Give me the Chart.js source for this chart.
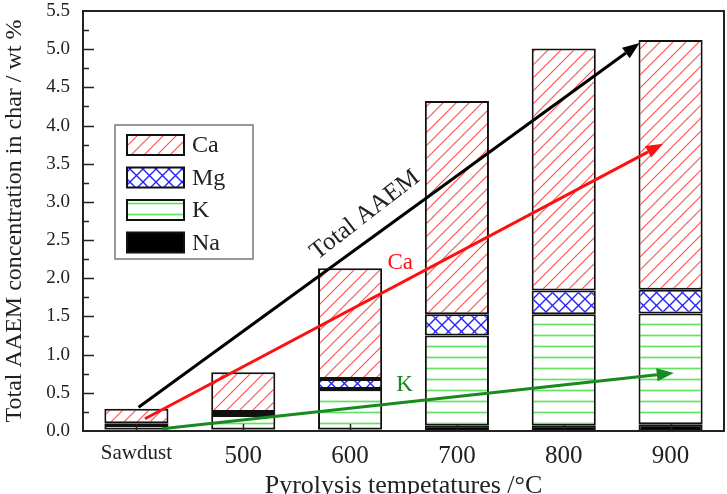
<!DOCTYPE html>
<html lang="en">
<head>
<meta charset="UTF-8">
<title>AAEM in char</title>
<script src="https://cdn.jsdelivr.net/npm/chart.js"></script>
<style>
  body { margin: 0; background: #fff; }
  #wrap { width: 727px; height: 494px; }
</style>
</head>
<body>
<div id="wrap"><canvas id="chart"></canvas></div>
<script>
// values (wt %)
const categories = ['Sawdust', '500', '600', '700', '800', '900'];
const na = [0.02, 0.02, 0.02, 0.07, 0.07, 0.09];
const k  = [0.06, 0.19, 0.53, 1.18, 1.46, 1.45];
const mg = [0.02, 0.04, 0.13, 0.28, 0.31, 0.31];
const ca = [0.19, 0.52, 1.45, 2.79, 3.17, 3.27];
const yTicks = [0, 0.5, 1, 1.5, 2, 2.5, 3, 3.5, 4, 4.5, 5, 5.5];

// trend arrows, in data units (category index, wt %)
const arrowNames = ['Total AAEM', 'Ca', 'K'];
const arrowStart = [[0.02, 0.31], [0.08, 0.16], [0.24, 0.03]];
const arrowEnd   = [[4.71, 5.08], [4.93, 3.76], [5.03, 0.76]];
const arrowText  = [[2.14, 2.83], [2.47, 2.20], [2.51, 0.60]];
const arrowColors = ['#000000', '#ff1010', '#188a1e'];

const SERIF = '"Liberation Serif", "Times New Roman", serif';

function makePattern(kind) {
  const c = document.createElement('canvas');
  const g = c.getContext('2d');
  if (kind === 'diag') {
    c.width = c.height = 13;
    g.fillStyle = '#fff'; g.fillRect(0, 0, 13, 13);
    g.strokeStyle = '#ff5454'; g.lineWidth = 1.2;
    g.beginPath();
    g.moveTo(-1, 14); g.lineTo(14, -1);
    g.moveTo(-1, 1); g.lineTo(1, -1);
    g.moveTo(12, 14); g.lineTo(14, 12);
    g.stroke();
  } else if (kind === 'cross') {
    c.width = c.height = 13;
    g.fillStyle = '#fff'; g.fillRect(0, 0, 13, 13);
    g.strokeStyle = '#2424ff'; g.lineWidth = 1.4;
    g.beginPath();
    g.moveTo(0, 0); g.lineTo(13, 13);
    g.moveTo(0, 13); g.lineTo(13, 0);
    g.stroke();
  } else {
    c.width = c.height = 11;
    g.fillStyle = '#fff'; g.fillRect(0, 0, 11, 11);
    g.strokeStyle = '#62e262'; g.lineWidth = 1.7;
    g.beginPath(); g.moveTo(0, 5.5); g.lineTo(11, 5.5); g.stroke();
  }
  return g.createPattern(c, 'repeat');
}

const extras = {
  id: 'extras',
  afterDatasetsDraw(chart) {
    const ctx = chart.ctx;
    const a = chart.chartArea;
    const xs = chart.scales.x, ys = chart.scales.y;
    ctx.save();

    // frame
    ctx.strokeStyle = '#222'; ctx.lineWidth = 2;
    ctx.strokeRect(a.left, a.top, a.right - a.left, a.bottom - a.top);

    // inward ticks on y
    ctx.lineWidth = 1.5;
    ctx.beginPath();
    for (let v = 0.25; v < 5.5; v += 0.25) {
      const y = Math.round(ys.getPixelForValue(v)) + 0.5;
      const len = Math.abs(v * 2 - Math.round(v * 2)) < 1e-6 ? 11 : 6;
      ctx.moveTo(a.left, y); ctx.lineTo(a.left + len, y);
    }
    // inward ticks on x
    categories.forEach((c, i) => {
      const x = Math.round(xs.getPixelForValue(i)) + 0.5;
      ctx.moveTo(x, a.bottom); ctx.lineTo(x, a.bottom - 7);
    });
    ctx.stroke();

    // arrows
    arrowNames.forEach((name, i) => {
      const x0 = xs.getPixelForValue(arrowStart[i][0]), y0 = ys.getPixelForValue(arrowStart[i][1]);
      const x1 = xs.getPixelForValue(arrowEnd[i][0]), y1 = ys.getPixelForValue(arrowEnd[i][1]);
      const ang = Math.atan2(y1 - y0, x1 - x0);
      const hl = 17, hw = 6.5;
      const bx = x1 - hl * Math.cos(ang), by = y1 - hl * Math.sin(ang);
      ctx.strokeStyle = arrowColors[i]; ctx.fillStyle = arrowColors[i];
      ctx.lineWidth = 3;
      ctx.beginPath(); ctx.moveTo(x0, y0); ctx.lineTo(bx, by); ctx.stroke();
      ctx.beginPath();
      ctx.moveTo(x1, y1);
      ctx.lineTo(bx + hw * Math.sin(ang), by - hw * Math.cos(ang));
      ctx.lineTo(bx - hw * Math.sin(ang), by + hw * Math.cos(ang));
      ctx.closePath(); ctx.fill();

      const tx = xs.getPixelForValue(arrowText[i][0]), ty = ys.getPixelForValue(arrowText[i][1]);
      ctx.save();
      ctx.translate(tx, ty);
      if (i === 0) { ctx.rotate(ang - 0.03); ctx.fillStyle = '#222'; }
      ctx.font = (i === 0 ? '25px ' : '23px ') + SERIF;
      ctx.textAlign = 'center'; ctx.textBaseline = 'middle';
      ctx.fillText(name, 0, 0);
      ctx.restore();
    });

    // legend box
    const lx = 115, ly = 125;
    ctx.strokeStyle = '#7a7a7a'; ctx.lineWidth = 1.5;
    ctx.fillStyle = '#fff';
    ctx.fillRect(lx, ly, 138, 134);
    ctx.strokeRect(lx, ly, 138, 134);
    const ds = chart.data.datasets.slice().reverse();
    ds.forEach((d, i) => {
      const sy = ly + 10 + i * 32.5;
      ctx.fillStyle = d.backgroundColor;
      ctx.fillRect(lx + 12, sy, 57, 20);
      ctx.strokeStyle = '#111'; ctx.lineWidth = 2;
      ctx.strokeRect(lx + 12, sy, 57, 20);
      ctx.fillStyle = '#222';
      ctx.font = '24px ' + SERIF;
      ctx.textAlign = 'left'; ctx.textBaseline = 'middle';
      ctx.fillText(d.label, lx + 77, sy + 11);
    });

    ctx.restore();
  }
};

const common = { borderColor: '#111', borderWidth: 2, borderSkipped: false,
                 barPercentage: 0.6, categoryPercentage: 1 };

new Chart(document.getElementById('chart'), {
  type: 'bar',
  data: {
    labels: categories,
    datasets: [
      { label: 'Na', data: na, backgroundColor: '#000', ...common },
      { label: 'K',  data: k,  backgroundColor: makePattern('horiz'), ...common },
      { label: 'Mg', data: mg, backgroundColor: makePattern('cross'), ...common },
      { label: 'Ca', data: ca, backgroundColor: makePattern('diag'), ...common }
    ]
  },
  options: {
    responsive: true,
    maintainAspectRatio: false,
    animation: false,
    layout: { padding: { top: 11, right: 3, left: 0, bottom: 0 } },
    plugins: { legend: { display: false }, tooltip: { enabled: false } },
    scales: {
      x: {
        stacked: true,
        grid: { display: false },
        border: { display: false },
        afterFit(s) { s.height = 63; s.paddingLeft = 0; s.paddingRight = 0; },
        ticks: {
          color: '#222', padding: 2,
          font: (c) => c.index === 0 ? { family: SERIF, size: 21 } : { family: SERIF, size: 25 }
        },
        title: { display: true, text: 'Pyrolysis tempetatures /\u00b0C', color: '#222',
                 font: { family: SERIF, size: 26, lineHeight: 1 }, padding: { top: 0, bottom: -5 } }
      },
      y: {
        stacked: true,
        min: 0, max: 5.5,
        grid: { display: false },
        border: { display: false },
        afterFit(s) { s.width = 83; s.paddingTop = 0; s.paddingBottom = 0; },
        afterBuildTicks(s) { s.ticks = yTicks.map(v => ({ value: v })); },
        ticks: {
          color: '#222', padding: 5,
          font: { family: SERIF, size: 19 },
          callback: (v) => Number(v).toFixed(1)
        },
        title: { display: true, text: 'Total AAEM concentration in char / wt %', color: '#222',
                 font: { family: SERIF, size: 24, lineHeight: 1 }, padding: { top: 3, bottom: 0 } }
      }
    }
  },
  plugins: [extras]
});
</script>
</body>
</html>
